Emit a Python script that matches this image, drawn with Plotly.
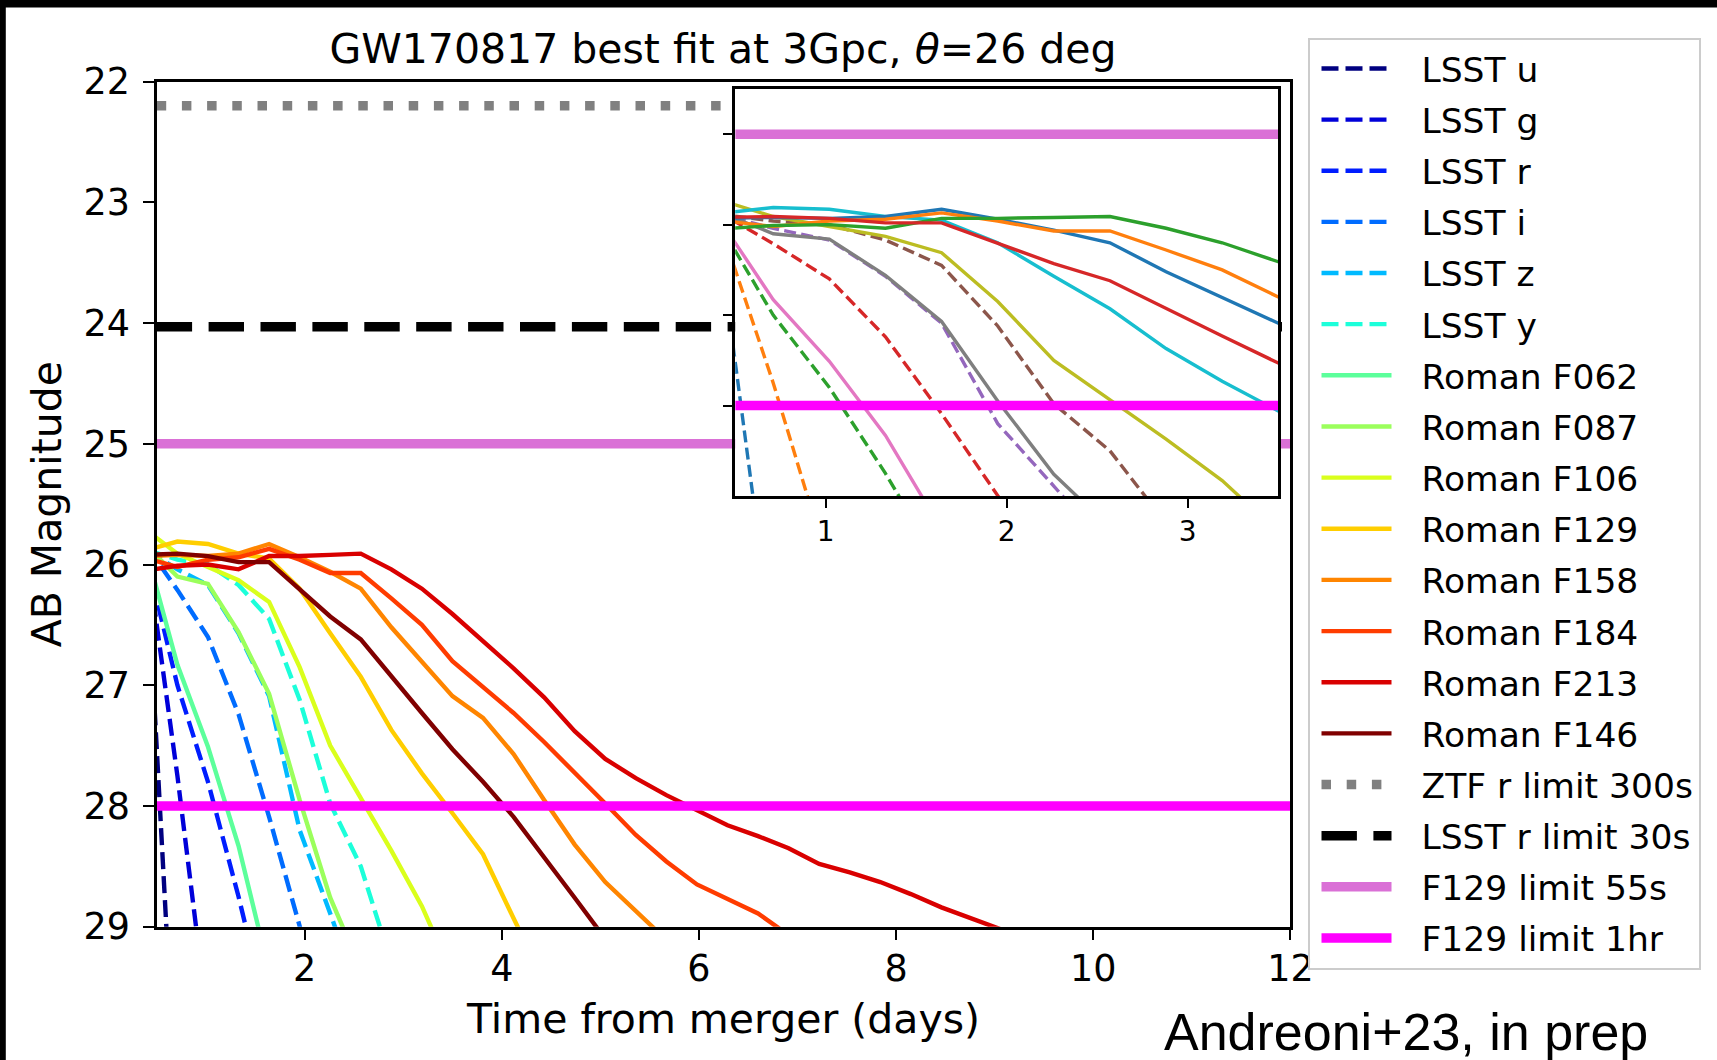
import plotly.graph_objects as go

# Model epochs (days after merger) shared by every light curve
T_DAYS = [0.40, 0.71, 1.02, 1.33, 1.64, 1.95, 2.26, 2.57, 2.88, 3.19,
          3.50, 3.81, 4.12, 4.43, 4.74, 5.05, 5.36, 5.67, 5.98, 6.29,
          6.60, 6.91, 7.22, 7.53, 7.84, 8.15, 8.46, 8.77, 9.08, 9.39]

# AB magnitudes per band (each list runs over the first len(list) epochs)
LSST_U = [26.0, 30.7]
LSST_G = [25.9, 27.75, 29.8]
LSST_R = [25.95, 27.0, 27.8, 28.75, 29.8]
LSST_I = [25.85, 26.21, 26.6, 27.24, 28.09, 29.01, 29.9]
LSST_Z = [25.88, 26.04, 26.17, 26.57, 27.09, 28.2, 28.89, 29.6]
LSST_Y = [25.88, 25.96, 26.0, 26.17, 26.45, 27.12, 27.98, 28.5, 29.3]
ROMAN_F062 = [25.9, 26.83, 27.51, 28.33, 29.37]
ROMAN_F087 = [25.85, 26.10, 26.16, 26.56, 27.07, 27.95, 28.76, 29.35]
ROMAN_F106 = [25.72, 25.91, 26.02, 26.13, 26.31, 26.85, 27.5, 27.93, 28.37, 28.83, 29.4]
ROMAN_F129 = [25.88, 25.81, 25.83, 25.91, 25.95, 26.2, 26.57, 26.93, 27.37, 27.73,
              28.06, 28.4, 28.93, 29.45]
ROMAN_F158 = [25.93, 25.92, 25.93, 25.91, 25.83, 25.94, 26.06, 26.2, 26.52, 26.81,
              27.09, 27.27, 27.57, 27.95, 28.32, 28.63, 28.87, 29.1, 29.35]
ROMAN_F184 = [25.95, 26.02, 25.96, 25.94, 25.87, 25.96, 26.07, 26.07, 26.28, 26.5,
              26.8, 27.02, 27.23, 27.47, 27.72, 27.98, 28.24, 28.46, 28.65, 28.77,
              28.89, 29.07, 29.3]
ROMAN_F213 = [26.05, 26.01, 26.0, 26.04, 25.93, 25.93, 25.92, 25.91, 26.04, 26.2,
              26.41, 26.63, 26.86, 27.1, 27.38, 27.61, 27.77, 27.91, 28.04, 28.16,
              28.25, 28.35, 28.48, 28.55, 28.63, 28.73, 28.84, 28.93, 29.02, 29.12]
ROMAN_F146 = [25.92, 25.91, 25.93, 25.98, 25.98, 26.2, 26.43, 26.62, 26.93, 27.23,
              27.53, 27.8, 28.09, 28.42, 28.76, 29.1]

BAND_NAMES = ["LSST u", "LSST g", "LSST r", "LSST i", "LSST z", "LSST y",
              "Roman F062", "Roman F087", "Roman F106", "Roman F129",
              "Roman F158", "Roman F184", "Roman F213", "Roman F146"]
BAND_MAGS = [LSST_U, LSST_G, LSST_R, LSST_I, LSST_Z, LSST_Y,
             ROMAN_F062, ROMAN_F087, ROMAN_F106, ROMAN_F129,
             ROMAN_F158, ROMAN_F184, ROMAN_F213, ROMAN_F146]
BAND_IS_LSST = [True] * 6 + [False] * 8

# Survey depth limits
LIMIT_NAMES = ["ZTF r limit 300s", "LSST r limit 30s", "F129 limit 55s", "F129 limit 1hr"]
LIMIT_MAGS = [22.2, 24.03, 25.0, 28.0]

MAIN_X_RANGE = [0.5, 12]
MAIN_Y_RANGE = [29, 22]
INSET_X_RANGE = [0.5, 3.5]
INSET_Y_RANGE = [29, 24.5]

# Styling
JET_COLORS = ["#000080", "#0000d9", "#001dff", "#006cff", "#00baff", "#1cffda",
              "#5cff9b", "#9bff5c", "#daff1c", "#ffce00", "#ff8500", "#ff3c00",
              "#d90000", "#800000"]
TAB10 = ["#1f77b4", "#ff7f0e", "#2ca02c", "#d62728", "#9467bd",
         "#8c564b", "#e377c2", "#7f7f7f", "#bcbd22", "#17becf"]
LIMIT_COLORS = ["#808080", "#000000", "#da70d6", "#ff00ff"]
LIMIT_DASHES = ["9.5px,15.7px", "35.4px,16.5px", "solid", "solid"]
LIMIT_WIDTH = 9.5
MAIN_LW = 4.4
INSET_LW = 3.4
MAIN_DASH = "17px,7px"
INSET_DASH = "12px,5.3px"

FONT = "DejaVu Sans"
W, H = 1717, 1060


def px_x(p):
    return p / W


def px_y(p):
    return (H - p) / H


fig = go.Figure()

# Main panel light curves
for k, (name, mags, lsst) in enumerate(zip(BAND_NAMES, BAND_MAGS, BAND_IS_LSST)):
    fig.add_trace(go.Scatter(
        x=T_DAYS[:len(mags)], y=mags, mode="lines", name=name,
        legendgroup=name,
        line=dict(color=JET_COLORS[k], width=MAIN_LW,
                  dash=MAIN_DASH if lsst else "solid"),
        xaxis="x", yaxis="y"))

# Main panel depth limits
for name, mag, col, dash in zip(LIMIT_NAMES, LIMIT_MAGS, LIMIT_COLORS, LIMIT_DASHES):
    fig.add_trace(go.Scatter(
        x=MAIN_X_RANGE, y=[mag, mag], mode="lines", name=name,
        legendgroup=name,
        line=dict(color=col, width=LIMIT_WIDTH, dash=dash),
        xaxis="x", yaxis="y"))

# Inset: first three days, default colour cycle
for k, (name, mags, lsst) in enumerate(zip(BAND_NAMES, BAND_MAGS, BAND_IS_LSST)):
    fig.add_trace(go.Scatter(
        x=T_DAYS[:len(mags)], y=mags, mode="lines", name=name,
        showlegend=False,
        line=dict(color=TAB10[k % 10], width=INSET_LW,
                  dash=INSET_DASH if lsst else "solid"),
        xaxis="x2", yaxis="y2"))

for name, mag, col, dash in zip(LIMIT_NAMES, LIMIT_MAGS, LIMIT_COLORS, LIMIT_DASHES):
    fig.add_trace(go.Scatter(
        x=INSET_X_RANGE, y=[mag, mag], mode="lines", name=name,
        showlegend=False,
        line=dict(color=col, width=LIMIT_WIDTH, dash=dash),
        xaxis="x2", yaxis="y2"))

axis_common = dict(showgrid=False, zeroline=False, showline=True, mirror=True,
                   linecolor="black", linewidth=2.5, ticks="outside",
                   tickcolor="black", tickwidth=2, automargin=False)

fig.update_layout(
    template="none",
    width=W, height=H, autosize=False,
    margin=dict(l=0, r=0, t=0, b=0, pad=0, autoexpand=False),
    paper_bgcolor="white", plot_bgcolor="white",
    font=dict(family=FONT, color="black"),
    title=dict(text="GW170817 best fit at 3Gpc, <i>θ</i>=26 deg",
               font=dict(family=FONT, size=41, color="black"),
               x=px_x(723), xanchor="center", xref="paper",
               y=px_y(48.5), yanchor="middle", yref="paper"),
    xaxis=dict(axis_common, domain=[px_x(156.7), px_x(1290.4)],
               range=MAIN_X_RANGE, tickvals=[2, 4, 6, 8, 10, 12],
               ticklen=10.7, tickfont=dict(size=36.5),
               ticklabelstandoff=-3,
               title=dict(text="Time from merger (days)",
                          font=dict(size=41), standoff=16),
               anchor="y"),
    yaxis=dict(axis_common, domain=[px_y(926.7), px_y(81.6)],
               range=MAIN_Y_RANGE, tickvals=[22, 23, 24, 25, 26, 27, 28, 29],
               ticklen=10.7, tickfont=dict(size=36.5),
               ticklabelstandoff=6,
               title=dict(text="AB Magnitude", font=dict(size=41), standoff=10),
               anchor="x"),
    xaxis2=dict(axis_common, domain=[px_x(735.2), px_x(1278.3)],
                range=INSET_X_RANGE, tickvals=[1, 2, 3],
                ticklen=9, tickfont=dict(size=28), anchor="y2"),
    yaxis2=dict(axis_common, domain=[px_y(496), px_y(89)],
                range=INSET_Y_RANGE, tickvals=[25, 26, 27, 28],
                ticklen=9, showticklabels=False, anchor="x2"),
    legend=dict(x=px_x(1307.5), y=px_y(37.5), xanchor="left", yanchor="top",
                xref="paper", yref="paper",
                bgcolor="rgba(255,255,255,0.8)", bordercolor="#cccccc",
                borderwidth=2, font=dict(family=FONT, size=34.5, color="black"),
                traceorder="grouped", tracegroupgap=3.3, itemwidth=102),
    showlegend=True,
)

# Credit line under the legend
fig.add_annotation(text="Andreoni+23, in prep", x=px_x(1405.5), y=px_y(1032),
                   xref="paper", yref="paper", xanchor="center", yanchor="middle",
                   showarrow=False,
                   font=dict(family="Liberation Sans", size=52, color="black"))

# Dark frame along the top and left edges of the slide
fig.add_shape(type="rect", xref="paper", yref="paper", x0=0, x1=1,
              y0=px_y(7.5), y1=1, fillcolor="black", line=dict(width=0), layer="above")
fig.add_shape(type="rect", xref="paper", yref="paper", x0=0, x1=px_x(5.8),
              y0=0, y1=1, fillcolor="black", line=dict(width=0), layer="above")

# Longer legend line samples
POST_JS = """
var gd = document.getElementById('{plot_id}');
function stretchLegendLines() {
  gd.querySelectorAll('g.legend g.legendlines path').forEach(function (p) {
    p.setAttribute('d', 'M12,0h70');
  });
}
stretchLegendLines();
gd.on('plotly_afterplot', stretchLegendLines);
"""

fig.write_html("out.html", post_script=POST_JS)
